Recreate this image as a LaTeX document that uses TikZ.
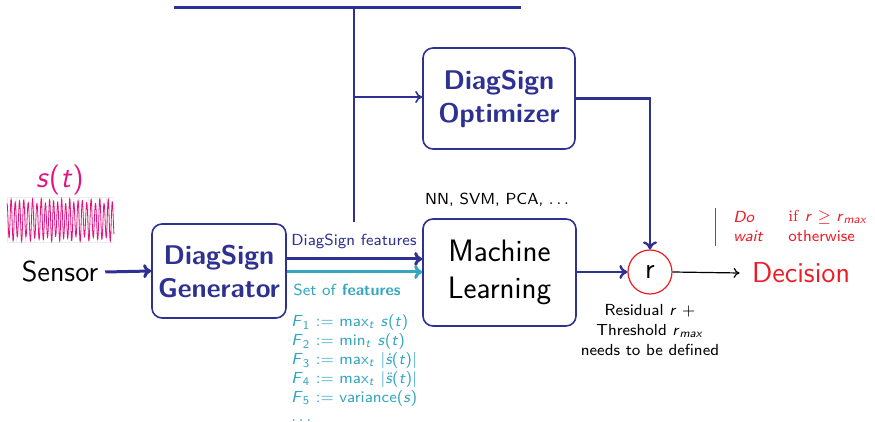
\documentclass[tikz,border=0pt]{standalone}
\usepackage{fontspec}
\usetikzlibrary{arrows.meta}
\definecolor{dsblue}{HTML}{2E3192}
\definecolor{dsteal}{HTML}{35A6C0}
\definecolor{dsred}{HTML}{ED1C24}
\definecolor{dsmag}{HTML}{E2137F}
\definecolor{dspink}{HTML}{F2A9CF}
\tikzset{
  box/.style={draw=dsblue, line width=0.8pt, rounded corners=5pt, fill=white, align=center, inner sep=0pt},
  boldtxt/.style={text=dsblue, font=\sffamily\fontsize{13.5}{16.5}\selectfont\bfseries},
  bigtxt/.style={font=\sffamily\fontsize{14.4}{18.5}\selectfont},
  mltxt/.style={font=\sffamily\fontsize{15.5}{18.5}\selectfont},
  smalltxt/.style={font=\sffamily\fontsize{8}{9.5}\selectfont},
  thickarrow/.style={line width=1.5pt, -{To[length=4pt,width=7pt]}},
  midarrow/.style={line width=1.2pt, -{To[length=4pt,width=7pt]}},
  thinarrow/.style={line width=0.8pt, -{To[length=3.5pt,width=6pt]}},
}
\begin{document}
\begin{tikzpicture}[x=0.5pt,y=-0.5pt]
\useasboundingbox (0,0) rectangle (875,422);

% signal plot
\begin{scope}
\foreach \gx in {7,16,...,114} \draw[black!7, line width=0.25pt] (\gx,197) -- (\gx,242);
\foreach \gy in {197,206,...,242} \draw[black!7, line width=0.25pt] (7,\gy) -- (114,\gy);
\draw[dsmag, line width=0.4pt] plot[domain=7:114, samples=600] (\x, {220+(19+2.5*sin(37*\x))*sin(86*\x+40*sin(6*\x))});
\end{scope}
\node[text=dsmag, font=\sffamily\fontsize{15}{18}\selectfont] (st) at (60,180) {\textit{s}(\textit{t})};

% nodes
\node[bigtxt] (sensor) at (60,272) {Sensor};
\node[box, boldtxt, minimum width=67pt, minimum height=47pt] (gen) at (219,271) {DiagSign\\Generator};
\node[box, boldtxt, minimum width=76pt, minimum height=50.5pt] (opt) at (499,98.5) {DiagSign\\Optimizer};
\node[box, mltxt, minimum width=76.5pt, minimum height=53.5pt] (ml) at (499.5,272.5) {Machine\\Learning};
\node[draw=dsred, line width=0.6pt, circle, minimum size=22pt, inner sep=0pt, bigtxt] (circ) at (650,272) {r};
\node[text=dsred, bigtxt, inner sep=6pt] (dec) at (801,273) {Decision};

% top bar and vertical line
\coordinate (barl) at (174,8);
\coordinate (barr) at (521,8);
\coordinate (vtop) at (354,8);
\coordinate (vbot) at (354,222);
\coordinate (vbr) at (354,97);
\draw[dsblue, line width=1.5pt] (barl) -- (barr);
\draw[dsblue, line width=0.8pt] (vtop) -- (vbot);
\draw[dsblue, thinarrow] (vbr) -- (vbr -| opt.west);

% connectors
\draw[dsblue, thickarrow] (sensor.east) -- (gen.west);
\draw[dsblue, thickarrow] (gen.east |- 0,259) -- (ml.west |- 0,259);
\draw[dsteal, thickarrow] (gen.east |- 0,272) -- (ml.west |- 0,272);
\draw[dsblue, midarrow] (opt.east) -| (circ.north);
\draw[dsblue, midarrow] (ml.east |- circ.west) -- (circ.west);
\draw[black, line width=0.6pt, -{To[length=3pt,width=5pt]}] (circ.east) -- (dec.west);

% labels
\node[smalltxt, text=dsblue] (dslab) at (354,241) {DiagSign features};
\node[smalltxt, text=dsteal, anchor=west, inner sep=0pt] (setlab) at (293,290) {Set of \textbf{features}};
\node[smalltxt, text=dsteal, anchor=north west, align=left, inner sep=0pt] (flist) at (291,314)
  {\textit{F}\textsubscript{1} := max\textsubscript{\textit{t}} \textit{s}(\textit{t})\\
   \textit{F}\textsubscript{2} := min\textsubscript{\textit{t}} \textit{s}(\textit{t})\\
   \textit{F}\textsubscript{3} := max\textsubscript{\textit{t}} $|$\textit{\.s}(\textit{t})$|$\\
   \textit{F}\textsubscript{4} := max\textsubscript{\textit{t}} $|$\textit{\"s}(\textit{t})$|$\\
   \textit{F}\textsubscript{5} := variance(\textit{s})\\
   $\ldots$};
\node[smalltxt] (nnlab) at (497,200) {NN, SVM, PCA, $\ldots$};
\node[smalltxt, align=center, font=\sffamily\fontsize{8}{9.8}\selectfont] (reslab) at (650,330)
  {Residual \textit{r} +\\ Threshold \textit{r}\textsubscript{\textit{max}}\\ needs to be defined};

% cases
\coordinate (cbt) at (715,208);
\coordinate (cbb) at (715,246);
\draw[dsred, line width=0.5pt] (cbt) -- (cbb);
\node[smalltxt, text=dsred, anchor=west, inner sep=0pt] (do) at (733,217) {\textit{Do}};
\node[smalltxt, text=dsred, anchor=west, inner sep=0pt] (wait) at (733,236) {\textit{wait}};
\node[smalltxt, text=dsred, anchor=west, inner sep=0pt] (ifc) at (788,217) {\textrm{if} \textit{r} $\geq$ \textit{r}\textsubscript{\textit{max}}};
\node[smalltxt, text=dsred, anchor=west, inner sep=0pt] (oth) at (788,236) {otherwise};
\end{tikzpicture}
\end{document}
